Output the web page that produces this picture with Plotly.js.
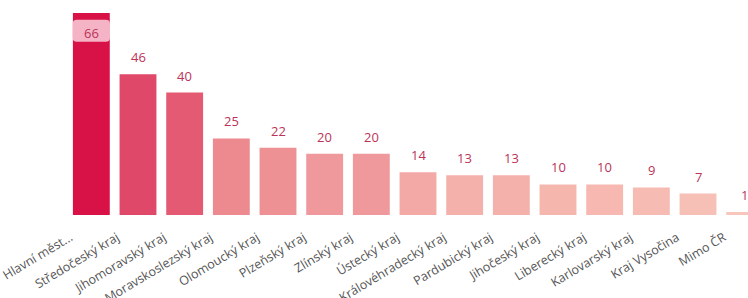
<!DOCTYPE html>
<html>
<head>
<meta charset="utf-8">
<script src="https://cdn.plot.ly/plotly-3.0.1.min.js"></script>
<style>html,body{margin:0;padding:0;background:#fff;overflow:hidden;width:748px;height:298px;}#chart{width:768px;height:298px;}</style>
</head>
<body>
<div id="chart"></div>
<script>
const categories = ["Hlavní měst...", "Středočeský kraj", "Jihomoravský kraj", "Moravskoslezský kraj", "Olomoucký kraj", "Plzeňský kraj", "Zlínský kraj", "Ústecký kraj", "Královéhradecký kraj", "Pardubický kraj", "Jihočeský kraj", "Liberecký kraj", "Karlovarský kraj", "Kraj Vysočina", "Mimo ČR"];
const values = [66, 46, 40, 25, 22, 20, 20, 14, 13, 13, 10, 10, 9, 7, 1];
const barColors = ["#d81247", "#e0486a", "#e35a72", "#ec8a8f", "#ee9195", "#ef999c", "#ef999c", "#f3aaa6", "#f4b0ab", "#f4b0ab", "#f5b6ae", "#f6b8b0", "#f6bbb2", "#f7c0b6", "#f8c6bb"];

const labelColor = "#bb3358";
const idx = categories.map((c, i) => i);

const annotations = values.map((v, i) => {
  if (i === 0) {
    return {x: i, y: v, xref: "x", yref: "y", text: String(v), showarrow: false,
      yanchor: "middle", yshift: -20, font: {family: "Open Sans", size: 13, color: labelColor}};
  }
  return {x: i, y: v, xref: "x", yref: "y", text: String(v), showarrow: false,
    yanchor: "middle", yshift: 17, font: {family: "Open Sans", size: 13, color: labelColor}};
});

// rounded highlight box behind the top label of the first bar
const bx0 = -0.4, bx1 = 0.4, by0 = 56.6, by1 = 63.8, rx = 0.09, ry = 1.3;
const boxPath = `M ${bx0+rx},${by0} L ${bx1-rx},${by0} Q ${bx1},${by0} ${bx1},${by0+ry} L ${bx1},${by1-ry} Q ${bx1},${by1} ${bx1-rx},${by1} L ${bx0+rx},${by1} Q ${bx0},${by1} ${bx0},${by1-ry} L ${bx0},${by0+ry} Q ${bx0},${by0} ${bx0+rx},${by0} Z`;

const trace = {
  type: "bar",
  x: idx,
  y: values,
  marker: {color: barColors, line: {width: 0}},
  hoverinfo: "none",
  cliponaxis: false
};

const layout = {
  width: 768, height: 298,
  margin: {l: 68, r: 0, t: 13, b: 83},
  paper_bgcolor: "#ffffff",
  plot_bgcolor: "#ffffff",
  bargap: 0.21,
  showlegend: false,
  xaxis: {
    range: [-0.5, 14.5],
    tickmode: "array",
    tickvals: idx,
    ticktext: categories,
    tickangle: -31,
    ticklabelshift: -21,
    ticklabelstandoff: 12,
    ticklabeloverflow: "allow",
    showgrid: false, zeroline: false, showline: false, ticks: "",
    tickfont: {family: "Open Sans", size: 12.5, color: "#555555"},
    fixedrange: true
  },
  yaxis: {
    range: [0, 66],
    visible: false,
    fixedrange: true
  },
  shapes: [{type: "path", xref: "x", yref: "y", path: boxPath, fillcolor: "#f4b4c6", line: {width: 0}, layer: "above"}],
  annotations: annotations
};

Plotly.newPlot("chart", [trace], layout, {displayModeBar: false, staticPlot: true});
</script>
</body>
</html>
